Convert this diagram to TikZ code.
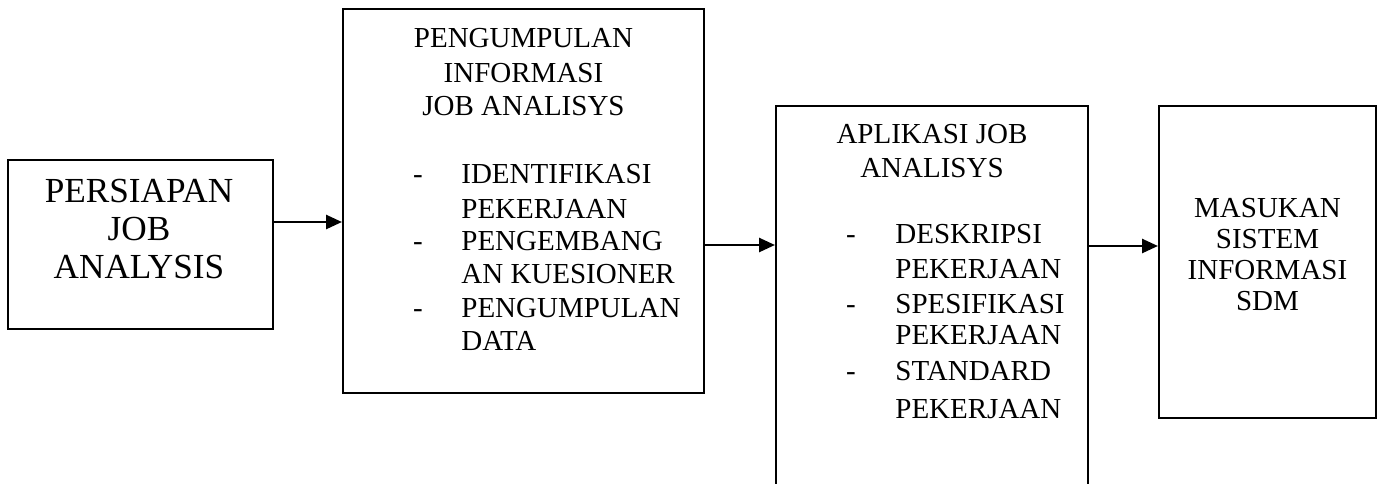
\documentclass[tikz,border=0pt]{standalone}
\usepackage{fontspec}
\setmainfont{Liberation Serif}
\usetikzlibrary{arrows.meta}
\begin{document}
\begin{tikzpicture}[x=0.5pt,y=-0.5pt,
  box/.style={draw,line width=1pt,inner sep=0pt},
  flow/.style={line width=1.3pt,-{Triangle[length=8pt,width=7pt]}},
  txt/.style={anchor=base,inner sep=0pt},
  lead/.style={anchor=base west,inner sep=0pt},
  big/.style={font=\fontsize{17.6}{20}\selectfont},
  norm/.style={font=\fontsize{14.5}{17}\selectfont}]
% page frame
\clip (0,0) rectangle (1378,483);
\path[use as bounding box] (0,0) rectangle (1378,483);

% boxes
\node[box,minimum width=132.5pt,minimum height=84.5pt] (b1) at (140.5,244.5) {};
\node[box,minimum width=180.5pt,minimum height=192pt] (b2) at (523.5,201) {};
\node[box,minimum width=156pt,minimum height=244pt] (b3) at (932,350) {};
\node[box,minimum width=108.5pt,minimum height=156pt] (b4) at (1267.5,262) {};

% arrow levels
\coordinate (y1) at (0,222);
\coordinate (y2) at (0,245);
\coordinate (y3) at (0,246);
\draw[flow] (b1.east |- y1) -- (b2.west |- y1);
\draw[flow] (b2.east |- y2) -- (b3.west |- y2);
\draw[flow] (b3.east |- y3) -- (b4.west |- y3);

% box 1
\begin{scope}[big]
\node[txt] (t1a) at (139,202) {PERSIAPAN};
\node[txt] (t1b) at (139,240) {JOB};
\node[txt] (t1c) at (139,278) {ANALYSIS};
\end{scope}

\begin{scope}[norm]
% box 2
\node[txt] (t2a) at (523.5,47) {PENGUMPULAN};
\node[txt] (t2b) at (523.5,82) {INFORMASI};
\node[txt] (t2c) at (523.5,115) {JOB ANALISYS};
\node[txt] (d2a) at (418,183) {-};
\node[lead] (t2d) at (461,183) {IDENTIFIKASI};
\node[lead] (t2e) at (461,218) {PEKERJAAN};
\node[txt] (d2b) at (418,250) {-};
\node[lead] (t2f) at (461,250) {PENGEMBANG};
\node[lead] (t2g) at (461,283) {AN KUESIONER};
\node[txt] (d2c) at (418,317) {-};
\node[lead] (t2h) at (461,317) {PENGUMPULAN};
\node[lead] (t2i) at (461,350) {DATA};

% box 3
\node[txt] (t3a) at (932,143) {APLIKASI JOB};
\node[txt] (t3b) at (932,177) {ANALISYS};
\node[txt] (d3a) at (851,243) {-};
\node[lead] (t3c) at (895,243) {DESKRIPSI};
\node[lead] (t3d) at (895,278) {PEKERJAAN};
\node[txt] (d3b) at (851,313) {-};
\node[lead] (t3e) at (895,313) {SPESIFIKASI};
\node[lead] (t3f) at (895,344) {PEKERJAAN};
\node[txt] (d3c) at (851,380) {-};
\node[lead] (t3g) at (895,380) {STANDARD};
\node[lead] (t3h) at (895,418) {PEKERJAAN};

% box 4
\node[txt] (t4a) at (1267.5,217) {MASUKAN};
\node[txt] (t4b) at (1267.5,248) {SISTEM};
\node[txt] (t4c) at (1267.5,279) {INFORMASI};
\node[txt] (t4d) at (1267.5,310) {SDM};
\end{scope}
\end{tikzpicture}
\end{document}
